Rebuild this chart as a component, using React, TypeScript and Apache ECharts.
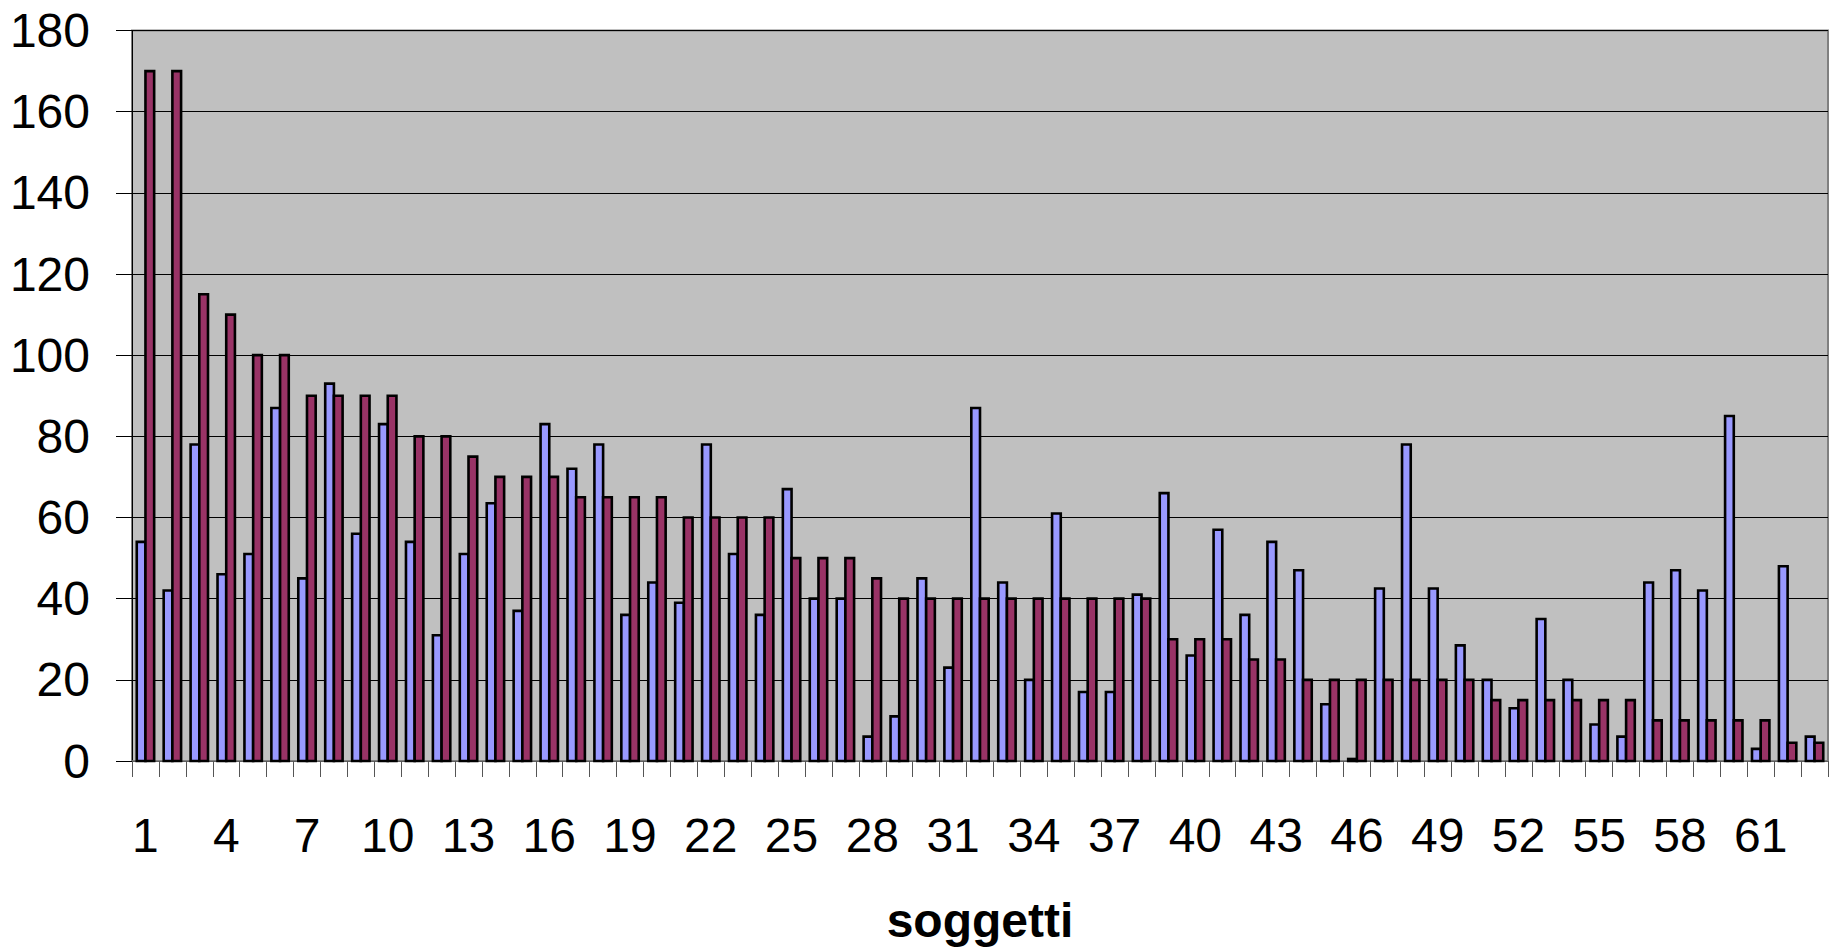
import React, { useEffect, useRef } from "react";
import * as echarts from "echarts";

// Subjects 1..63
const soggetti: string[] = Array.from({ length: 63 }, (_, i) => String(i + 1));

// First measurement (light blue bars)
const serieA: number[] = [
  54, 42, 78, 46, 51, 87, 45, 93, 56, 83,
  54, 31, 51, 63.5, 37, 83, 72, 78, 36, 44,
  39, 78, 51, 36, 67, 40, 40, 6, 11, 45,
  23, 87, 44, 20, 61, 17, 17, 41, 66, 26,
  57, 36, 54, 47, 14, 0.5, 42.5, 78, 42.5, 28.5,
  20, 13, 35, 20, 9, 6, 44, 47, 42, 85,
  3, 48, 6,
];

// Second measurement (maroon bars)
const serieB: number[] = [
  170, 170, 115, 110, 100, 100, 90, 90, 90, 90,
  80, 80, 75, 70, 70, 70, 65, 65, 65, 65,
  60, 60, 60, 60, 50, 50, 50, 45, 40, 40,
  40, 40, 40, 40, 40, 40, 40, 40, 30, 30,
  30, 25, 25, 20, 20, 20, 20, 20, 20, 20,
  15, 15, 15, 15, 15, 15, 10, 10, 10, 10,
  10, 4.5, 4.5,
];

const FONT = "'Liberation Sans', Arial, sans-serif";
const BAR_W = 8.7;
const OUTLINE = 2.6;

// Outlined bar placed left (offset -BAR_W) or right (offset 0) of the category centre
function makeBar(fill: string, offset: number) {
  return (_params: any, api: any) => {
    const idx = api.value(0);
    const v = api.value(1);
    const top = api.coord([idx, v]);
    const base = api.coord([idx, 0]);
    return {
      type: "rect",
      shape: {
        x: top[0] + offset,
        y: top[1],
        width: BAR_W,
        height: base[1] - top[1],
      },
      style: { fill, stroke: "#000", lineWidth: OUTLINE },
    };
  };
}

export default function App() {
  const ref = useRef<HTMLDivElement>(null);

  useEffect(() => {
    if (!ref.current) return;
    const chart = echarts.init(ref.current, undefined, { renderer: "svg" });
    chart.setOption({
      animation: false,
      backgroundColor: "#ffffff",
      grid: {
        left: 132,
        right: 3,
        top: 30.5,
        bottom: 187,
        show: true,
        backgroundColor: "#C0C0C0",
        borderColor: "#808080",
        borderWidth: 2,
      },
      xAxis: {
        type: "category",
        data: soggetti,
        boundaryGap: true,
        name: "soggetti",
        nameLocation: "middle",
        nameGap: 135,
        nameTextStyle: {
          fontFamily: FONT,
          fontSize: 48,
          fontWeight: "bold",
          color: "#000",
        },
        axisLine: { show: true, lineStyle: { color: "#808080", width: 1.5 } },
        axisTick: {
          show: true,
          length: 16,
          interval: 0,
          lineStyle: { color: "#555", width: 1 },
        },
        axisLabel: {
          interval: 2,
          margin: 50,
          fontFamily: FONT,
          fontSize: 48,
          color: "#000",
        },
        splitLine: { show: false },
      },
      yAxis: {
        type: "value",
        min: 0,
        max: 180,
        interval: 20,
        axisLine: { show: true, lineStyle: { color: "#000", width: 1 } },
        axisTick: { show: true, length: 16, lineStyle: { color: "#000", width: 1 } },
        axisLabel: {
          margin: 42,
          fontFamily: FONT,
          fontSize: 48,
          color: "#000",
        },
        splitLine: { show: true, lineStyle: { color: "#000", width: 1 } },
      },
      series: [
        {
          type: "custom",
          data: serieA.map((v, i) => [i, v]),
          encode: { x: 0, y: 1 },
          renderItem: makeBar("#9999FF", -BAR_W),
        },
        {
          type: "custom",
          data: serieB.map((v, i) => [i, v]),
          encode: { x: 0, y: 1 },
          renderItem: makeBar("#993366", 0),
        },
      ],
    });
    return () => chart.dispose();
  }, []);

  return (
    <div
      ref={ref}
      style={{ position: "fixed", left: 0, top: 0, width: 1831, height: 949 }}
    />
  );
}
